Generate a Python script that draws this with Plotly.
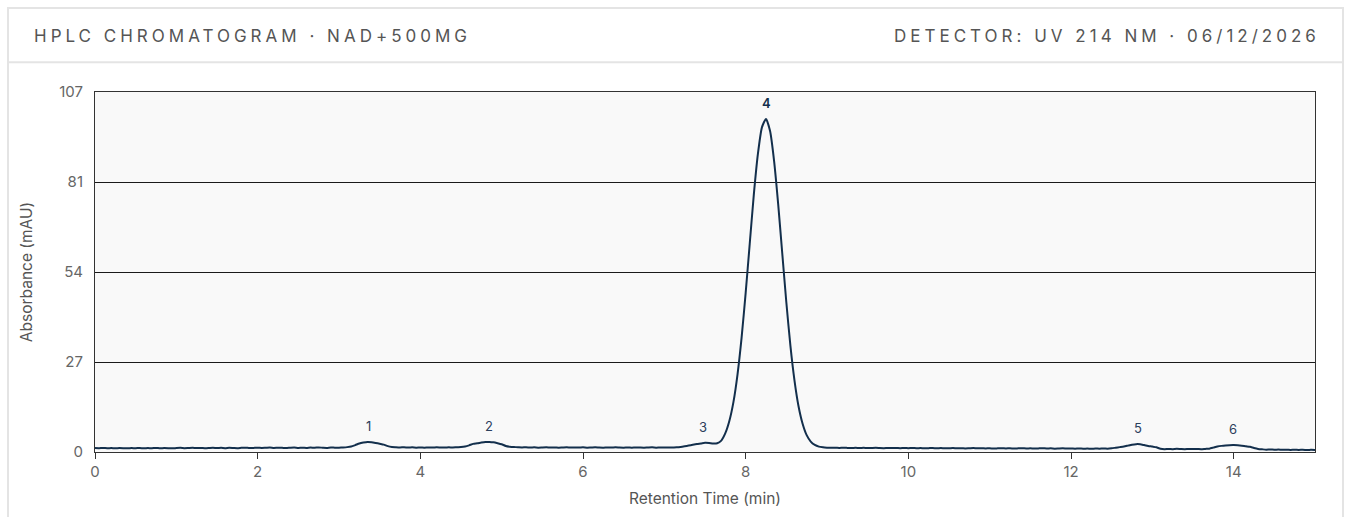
import plotly.graph_objects as go

# ---------------- data ----------------
TIME_STEP_MIN = 0.05
ABSORBANCE_MAU = [
    # 0.00 - 0.95
    1.18, 1.15, 1.21, 1.12, 1.17, 1.10, 1.19, 1.14, 1.08, 1.16, 1.12, 1.20, 1.09, 1.17, 1.13, 1.22, 1.11, 1.18, 1.15, 1.09,
    # 1.00 - 1.95
    1.17, 1.23, 1.14, 1.20, 1.26, 1.16, 1.22, 1.13, 1.19, 1.27, 1.18, 1.24, 1.15, 1.26, 1.20, 1.14, 1.23, 1.29, 1.18, 1.22,
    # 2.00 - 2.95
    1.27, 1.19, 1.25, 1.32, 1.21, 1.28, 1.24, 1.18, 1.27, 1.33, 1.22, 1.29, 1.20, 1.31, 1.26, 1.35, 1.27, 1.22, 1.33, 1.28,
    # 3.00 - 3.95  (peak 1)
    1.30, 1.36, 1.45, 1.62, 2.05, 2.52, 2.80, 3.00, 2.92, 2.70, 2.45, 2.20, 1.75, 1.50, 1.42, 1.36, 1.40, 1.33, 1.38, 1.30,
    # 4.00 - 4.95  (peak 2)
    1.35, 1.29, 1.37, 1.32, 1.40, 1.34, 1.31, 1.38, 1.33, 1.41, 1.46, 1.62, 1.98, 2.42, 2.58, 2.80, 2.97, 3.00, 2.88, 2.62,
    # 5.00 - 5.95
    2.30, 1.80, 1.58, 1.48, 1.42, 1.36, 1.40, 1.33, 1.38, 1.30, 1.36, 1.41, 1.32, 1.37, 1.29, 1.35, 1.39, 1.31, 1.36, 1.33,
    # 6.00 - 6.95
    1.38, 1.30, 1.35, 1.40, 1.32, 1.28, 1.36, 1.33, 1.39, 1.31, 1.27, 1.35, 1.30, 1.37, 1.32, 1.28, 1.34, 1.38, 1.30, 1.35,
    # 7.00 - 7.95  (peak 3, start of peak 4)
    1.31, 1.37, 1.33, 1.40, 1.52, 1.70, 1.92, 2.15, 2.38, 2.55, 2.75, 2.70, 2.52, 2.60, 3.40, 5.60, 9.30, 14.9, 23.1, 34.0,
    # 8.00 - 8.95  (peak 4)
    47.3, 61.9, 76.4, 88.5, 96.5, 99.0, 95.4, 86.4, 73.6, 59.0, 44.5, 31.6, 21.3, 13.6, 8.4, 5.0, 3.1, 2.1, 1.6, 1.40,
    # 9.00 - 9.95
    1.30, 1.24, 1.28, 1.20, 1.26, 1.22, 1.17, 1.25, 1.19, 1.23, 1.16, 1.21, 1.25, 1.18, 1.14, 1.22, 1.17, 1.20, 1.13, 1.19,
    # 10.00 - 10.95
    1.15, 1.20, 1.12, 1.17, 1.09, 1.14, 1.19, 1.11, 1.16, 1.08, 1.13, 1.18, 1.10, 1.15, 1.07, 1.12, 1.17, 1.09, 1.14, 1.06,
    # 11.00 - 11.95
    1.11, 1.04, 1.09, 1.14, 1.06, 1.10, 1.02, 1.08, 1.13, 1.05, 1.09, 1.01, 1.07, 1.12, 1.04, 1.08, 1.00, 1.06, 1.11, 1.03,
    # 12.00 - 12.95  (peak 5)
    1.05, 0.99, 1.04, 0.97, 1.02, 0.96, 1.03, 0.98, 1.05, 1.00, 1.10, 1.28, 1.45, 1.62, 1.90, 2.18, 2.33, 2.30, 2.05, 1.80,
    # 13.00 - 13.95  (peak 6 rising)
    1.62, 1.40, 0.95, 0.82, 0.90, 0.85, 0.93, 0.88, 0.84, 0.92, 0.86, 0.90, 0.83, 0.92, 1.00, 1.30, 1.62, 1.82, 1.95, 2.03,
    # 14.00 - 15.00
    2.05, 2.00, 1.88, 1.70, 1.55, 1.20, 0.92, 0.80, 0.70, 0.74, 0.68, 0.72, 0.65, 0.70, 0.63, 0.68, 0.61, 0.66, 0.60, 0.64,
    0.62,
]
RETENTION_TIME_MIN = [round(i * TIME_STEP_MIN, 2) for i in range(len(ABSORBANCE_MAU))]

PEAK_LABELS = ["1", "2", "3", "4", "5", "6"]
PEAK_TIMES = [3.36, 4.84, 7.47, 8.25, 12.82, 13.99]
PEAK_HEIGHTS = [3.0, 3.0, 2.75, 99.0, 2.33, 2.05]

Y_TICK_VALUES = [0, 26.75, 53.5, 80.25, 107]
Y_TICK_TEXT = ["0", "27", "54", "81", "107"]
X_TICK_VALUES = [0, 2, 4, 6, 8, 10, 12, 14]

TITLE_LEFT = "HPLC CHROMATOGRAM · NAD+500MG"
TITLE_RIGHT = "DETECTOR: UV 214 NM · 06/12/2026"
X_TITLE = "Retention Time (min)"
Y_TITLE = "Absorbance (mAU)"

# ---------------- layout geometry (page pixels; body margin removed) ----------------
W, H = 1346, 517
PLOT_L, PLOT_R, PLOT_T, PLOT_B = 95, 1315, 92, 456
ML, MT, MR, MB = PLOT_L, PLOT_T, W - PLOT_R, H - PLOT_B
PW, PH = W - ML - MR, H - MT - MB


def px(xp):
    return (xp - PLOT_L) / PW


def py(yp):
    return (PLOT_B - yp) / PH


FONT = "Inter, 'Noto Sans', sans-serif"
LINE_COLOR = "#132f4c"
LABEL_COLOR = "#2b405c"

fig = go.Figure()
fig.add_trace(go.Scatter(
    x=RETENTION_TIME_MIN, y=ABSORBANCE_MAU, mode="lines",
    line=dict(color=LINE_COLOR, width=2, shape="spline", smoothing=0.6),
    hoverinfo="skip", showlegend=False,
))

main_idx = PEAK_HEIGHTS.index(max(PEAK_HEIGHTS))
annotations = []
for i, (lbl, t, h) in enumerate(zip(PEAK_LABELS, PEAK_TIMES, PEAK_HEIGHTS)):
    annotations.append(dict(
        x=t, y=h, xref="x", yref="y", text=lbl, showarrow=False,
        yanchor="middle", yshift=16,
        font=dict(family=FONT, size=13, color=LABEL_COLOR if i != main_idx else LINE_COLOR,
                  weight=600 if i == main_idx else 400),
    ))

LS = 4.0
HEADER_SIZE = 17
annotations.append(dict(
    x=px(32), y=py(35), xref="paper", yref="paper", xanchor="left", yanchor="middle",
    text=f'<span style="letter-spacing:{LS}px">{TITLE_LEFT}</span>', showarrow=False,
    font=dict(family=FONT, size=HEADER_SIZE, color="#555555"),
))
annotations.append(dict(
    x=px(1318), y=py(35), xref="paper", yref="paper", xanchor="right", yanchor="middle",
    xshift=LS,
    text=f'<span style="letter-spacing:{LS}px">{TITLE_RIGHT}</span>', showarrow=False,
    font=dict(family=FONT, size=HEADER_SIZE, color="#555555"),
))

shapes = [
    dict(type="rect", xref="paper", yref="paper", x0=px(8), x1=px(1343), y0=py(560), y1=py(7),
         line=dict(color="#e4e4e4", width=2), fillcolor="rgba(0,0,0,0)", layer="below"),
    dict(type="line", xref="paper", yref="paper", x0=px(8), x1=px(1343), y0=py(62), y1=py(62),
         line=dict(color="#e4e4e4", width=2)),
]

fig.update_layout(
    width=W, height=H, autosize=False,
    margin=dict(l=ML, r=MR, t=MT, b=MB, pad=0),
    paper_bgcolor="#ffffff", plot_bgcolor="#f9f9f9",
    font=dict(family=FONT, size=15, color="#666666"),
    annotations=annotations, shapes=shapes, showlegend=False,
)
fig.update_xaxes(
    range=[0, 15], tickvals=X_TICK_VALUES, ticks="outside", ticklen=6, tickcolor="#333333",
    showline=True, linecolor="#333333", linewidth=1, mirror=True, showgrid=False, zeroline=False,
    tickfont=dict(size=15, color="#666666"),
    title=dict(text=X_TITLE, font=dict(size=15.5, color="#555555"), standoff=13),
)
fig.update_yaxes(
    range=[0, 107], tickvals=Y_TICK_VALUES, ticktext=Y_TICK_TEXT, ticks="",
    ticklabelstandoff=8,
    showline=True, linecolor="#333333", linewidth=1, mirror=True,
    showgrid=True, gridcolor="#1a1a1a", gridwidth=1, zeroline=False,
    tickfont=dict(size=15, color="#666666"),
    title=dict(text=Y_TITLE, font=dict(size=15.5, color="#555555"), standoff=22),
)

fig.write_html(
    "out.html",
    config={"displayModeBar": False, "responsive": False},
    post_script="document.body.style.margin='0';document.body.style.overflow='hidden';",
)
